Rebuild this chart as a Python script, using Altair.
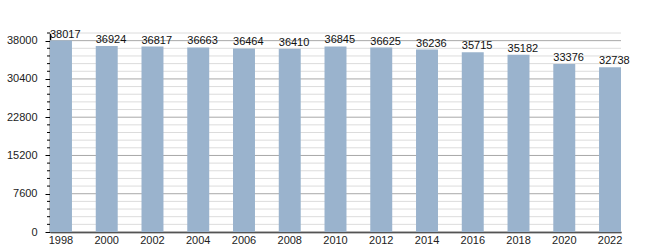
import altair as alt
import pandas as pd

years = ["1998", "2000", "2002", "2004", "2006", "2008", "2010", "2012",
         "2014", "2016", "2018", "2020", "2022"]
population = [38017, 36924, 36817, 36663, 36464, 36410, 36845, 36625,
              36236, 35715, 35182, 33376, 32738]
major_ticks = [0, 7600, 15200, 22800, 30400, 38000]
minor_ticks = [v * 1520 for v in range(0, 27) if (v * 1520) % 7600 != 0]

W, H = 571, 199
ydom = [0, 39520]

df = pd.DataFrame({"year": years, "pop": population})
df_major = pd.DataFrame({"v": major_ticks})
df_minor = pd.DataFrame({"v": minor_ticks})

yscale = alt.Scale(domain=ydom, nice=False, zero=True)
yaxis = alt.Axis(values=major_ticks, grid=False, tickSize=5, format="d",
                 tickColor="#000000", domainColor="#000000",
                 labelPadding=8, labelFontSize=11,
                 labelColor="#222222", labelFont="Liberation Sans")

minor_grid = alt.Chart(df_minor).mark_rule(color="#dcdcdc", strokeWidth=1).encode(
    y=alt.Y("v:Q", scale=yscale, axis=yaxis, title=None),
    x=alt.value(0), x2=alt.value(W),
)
major_grid = alt.Chart(df_major).mark_rule(color="#a8a8a8", strokeWidth=1).encode(
    y=alt.Y("v:Q", scale=yscale, axis=yaxis, title=None),
    x=alt.value(0), x2=alt.value(W),
)
minor_tick = alt.Chart(df_minor).mark_rule(color="#000000", strokeWidth=1).encode(
    y=alt.Y("v:Q", scale=yscale, axis=yaxis, title=None),
    x=alt.value(-3), x2=alt.value(0),
)

xenc = alt.X("year:O", title=None,
             scale=alt.Scale(paddingInner=0.52, paddingOuter=0),
             axis=alt.Axis(labelAngle=0, ticks=False, domainColor="#000000",
                           labelPadding=2, labelFontSize=11, labelColor="#222222",
                           labelFont="Liberation Sans"))

bars = alt.Chart(df).mark_bar(color="#9ab3cd").encode(
    x=xenc,
    y=alt.Y("pop:Q", scale=yscale, title=None, axis=yaxis),
)

labels = alt.Chart(df).mark_text(align="left", baseline="bottom", dy=-1,
                                 fontSize=11, font="Liberation Sans",
                                 color="#111111").encode(
    x=alt.X("year:O", bandPosition=0),
    y=alt.Y("pop:Q", scale=yscale, title=None, axis=yaxis),
    text=alt.Text("pop:Q", format="d"),
)

chart = alt.layer(minor_grid, major_grid, bars, labels, minor_tick).properties(
    width=W, height=H,
    autosize=alt.AutoSizeParams(type="none"),
    padding={"left": 50, "top": 33, "right": 29, "bottom": 18},
).configure_view(stroke=None).configure_axis(domainWidth=1.5)

chart.save("out.html", embed_options={"renderer": "svg", "actions": False})
